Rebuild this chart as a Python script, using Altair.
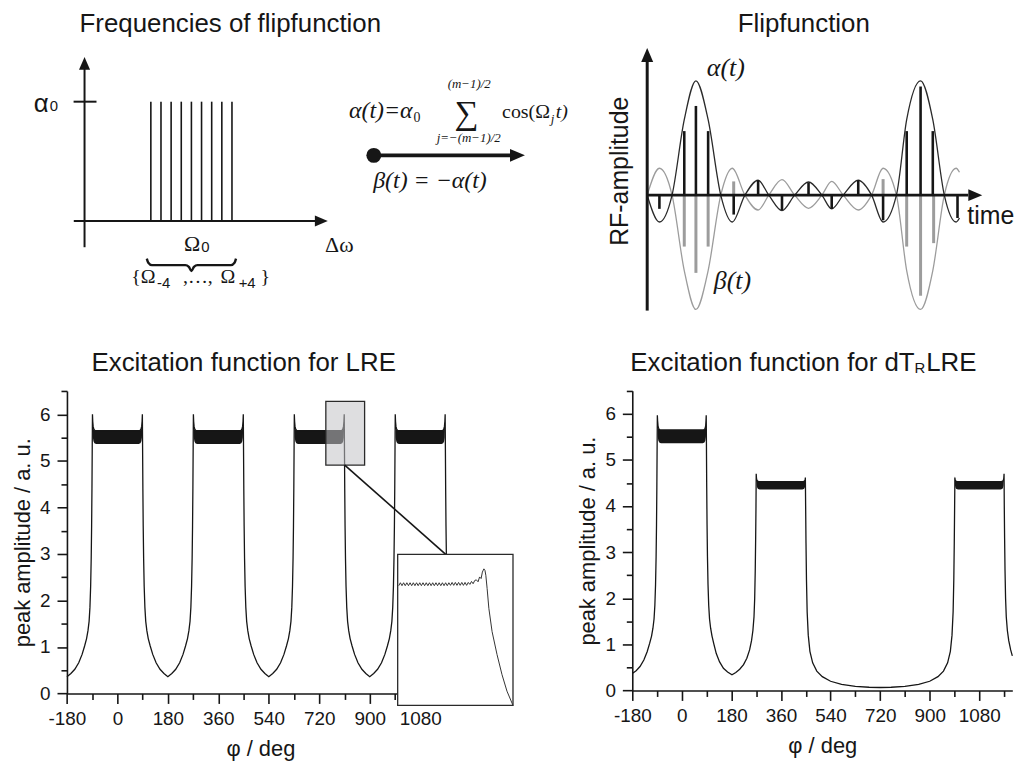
import altair as alt
import pandas as pd

# ---------------- data ----------------
# top-left: frequency comb (index j of Omega_j, amplitude alpha0 = 1)
freq_index = [-4, -3, -2, -1, 0, 1, 2, 3, 4]
freq_amp = [1, 1, 1, 1, 1, 1, 1, 1, 1]
brace_j = [-4.4, -4.25, -3.9, -0.6, -0.25, 0.0, 0.25, 0.6, 3.9, 4.25, 4.4]
brace_v = [-0.315, -0.35, -0.37, -0.37, -0.385, -0.42, -0.385, -0.37, -0.37, -0.35, -0.315]

# top-right: flip function alpha(t) (beta = -alpha)
flip_t = [0, 0.435, 0.885, 1.32, 1.735, 2.17, 2.62, 3.03, 3.48, 3.95, 4.33, 4.80, 5.25,
          5.745, 6.22, 6.57, 6.98, 7.515, 7.99, 8.40, 8.875, 9.24, 9.735, 10.17, 10.58, 11.0, 11.12]
flip_alpha = [0, -0.235, 0, 0.66, 1.0, 0.66, 0, -0.235, 0, 0.13, 0, -0.135, 0,
              0.115, 0, -0.12, 0, 0.13, 0, -0.235, 0, 0.66, 1.0, 0.66, 0, -0.235, -0.2]
stick_black_t = [0.435, 1.32, 1.735, 2.17, 3.08, 3.95, 4.80, 5.745, 6.57, 7.515, 8.40, 9.24, 9.735, 10.17, 11.05]
stick_black_v = [-0.12, 0.56, 0.78, 0.56, -0.17, 0.13, -0.13, 0.11, -0.12, 0.13, -0.22, 0.56, 0.95, 0.56, -0.2]
stick_gray_t = [1.32, 1.735, 2.17, 3.08, 8.40, 9.24, 9.735, 10.2]
stick_gray_v = [-0.45, -0.68, -0.45, 0.12, 0.14, -0.45, -0.88, -0.42]

# bottom-left: LRE excitation, one period profile around a bump centre
lre_centres = [0, 360, 720, 1080]
lre_off = [-180, -166, -152, -138, -126, -117, -110, -105, -101, -98, -95.5, -93.5, -92, -90.8,
           -89.8, -89, -88, -86.5, -84, -80, 80, 84, 86.5, 88, 89, 89.8, 90.8, 92, 93.5, 95.5,
           98, 101, 105, 110, 117, 126, 138, 152, 166, 180]
lre_amp = [0.36, 0.43, 0.52, 0.66, 0.84, 1.02, 1.18, 1.35, 1.55, 1.85, 2.3, 2.9, 3.6, 4.4,
           5.3, 6.0, 5.85, 5.74, 5.68, 5.65, 5.65, 5.68, 5.74, 5.85, 6.0, 5.3, 4.4, 3.6, 2.9, 2.3,
           1.85, 1.55, 1.35, 1.18, 1.02, 0.84, 0.66, 0.52, 0.43, 0.36]
band_off = [-88.6, -87.5, -85.5, -82, -76, 76, 82, 85.5, 87.5, 88.6]
band_hi = [5.85, 5.74, 5.68, 5.66, 5.65, 5.65, 5.66, 5.68, 5.74, 5.85]
band_lo = [5.75, 5.5, 5.42, 5.38, 5.36, 5.36, 5.38, 5.42, 5.5, 5.75]
small_band_off = [-89, -88, -86, -83, -77, 77, 83, 86, 88, 88.7]
small_band_hi = [4.65, 4.58, 4.55, 4.54, 4.53, 4.53, 4.54, 4.55, 4.57, 4.6]
small_band_lo = [4.55, 4.44, 4.39, 4.37, 4.36, 4.36, 4.37, 4.39, 4.44, 4.52]

# highlight box and inset (zoom of the plateau edge)
rect_phi = [743.4, 881.7]
rect_amp = [4.91, 6.28]
link_phi = [810.8, 1171]
link_amp = [4.91, 2.99]
inset_phi = [770.5, 771.25, 772.0, 772.75, 773.5, 774.25, 775.0, 775.75, 776.5, 777.25, 778.0,
             778.75, 779.5, 780.25, 781.0, 781.75, 782.5, 783.25, 784.0, 784.75, 785.5, 786.25,
             787.0, 787.75, 788.5, 789.25, 790.0, 790.75, 791.5, 792.25, 793.0, 793.75, 794.5,
             795.25, 796.0, 796.75, 797.5, 798.25, 799.0, 799.75, 800.5, 801.25, 802.0, 802.75,
             803.5, 804.25, 805.0, 805.75, 806.5, 807.3, 808.0, 808.7, 809.3, 810.0, 810.5,
             810.9, 811.5, 812.3, 813.8, 816.1, 818.4, 820.7, 823.5]
inset_amp = [5.48, 5.57, 5.48, 5.57, 5.48, 5.57, 5.48, 5.57, 5.48, 5.57, 5.48, 5.57, 5.48, 5.57,
             5.48, 5.57, 5.48, 5.57, 5.48, 5.57, 5.48, 5.57, 5.48, 5.57, 5.48, 5.57, 5.48, 5.57,
             5.48, 5.57, 5.48, 5.57, 5.49, 5.58, 5.49, 5.58, 5.49, 5.58, 5.49, 5.58, 5.49, 5.58,
             5.49, 5.58, 5.52, 5.61, 5.54, 5.64, 5.66, 5.60, 5.75, 5.70, 5.90, 6.0, 5.95,
             5.80, 5.39, 4.78, 4.06, 3.35, 2.73, 2.22, 1.78]

# bottom-right: dT_R LRE excitation
dtr_phi = [-180, -166, -152, -138, -126, -117, -110, -105, -101, -98, -95.5, -93.5, -92, -90.8,
           -89.8, -89, -88, -86.5, -84, -80, 80, 84, 86.5, 87.6, 88.5,
           89.3, 90.3, 91.5, 93, 95, 97.5, 100.5, 104.5, 109.5, 116.5, 125, 137, 151, 166, 182,
           196, 210, 224, 236, 246, 253, 258, 262, 264.5, 266.5, 268, 269.2, 270,
           271, 272.5, 275, 280, 440, 445, 447.5, 448.5,
           449.5, 450.8, 452.5, 455, 459, 465, 475, 490, 510, 540, 580, 630, 680, 720, 760, 810,
           860, 900, 930, 950, 965, 975, 981, 985, 987.5, 989.2, 990.5, 991.5,
           992.5, 995, 1000, 1160, 1165, 1167.5, 1169, 1170,
           1170.8, 1172, 1173.5, 1175.5, 1178, 1182, 1187, 1194, 1200]
dtr_amp = [0.37, 0.43, 0.52, 0.66, 0.84, 1.02, 1.18, 1.35, 1.55, 1.85, 2.3, 2.9, 3.6, 4.4,
           5.3, 5.97, 5.85, 5.74, 5.68, 5.65, 5.65, 5.68, 5.74, 5.85, 5.97,
           5.3, 4.4, 3.6, 2.9, 2.3, 1.85, 1.55, 1.35, 1.18, 1.0, 0.8, 0.62, 0.48, 0.4, 0.34,
           0.39, 0.46, 0.56, 0.7, 0.88, 1.08, 1.3, 1.6, 2.0, 2.6, 3.3, 4.0, 4.7,
           4.6, 4.56, 4.54, 4.53, 4.53, 4.54, 4.56, 4.62,
           4.0, 3.2, 2.4, 1.7, 1.2, 0.85, 0.6, 0.42, 0.3, 0.2, 0.13, 0.09, 0.07, 0.065, 0.07, 0.09,
           0.13, 0.2, 0.3, 0.42, 0.6, 0.85, 1.2, 1.7, 2.4, 3.2, 4.0, 4.62,
           4.56, 4.54, 4.53, 4.53, 4.54, 4.56, 4.6, 4.7,
           4.0, 3.3, 2.6, 2.0, 1.6, 1.3, 1.08, 0.88, 0.75]

major_phi = [-180, 0, 180, 360, 540, 720, 900, 1080]
minor_phi = [-90, 90, 270, 450, 630, 810, 990, 1170]
major_amp = [0, 1, 2, 3, 4, 5, 6]
minor_amp = [0.5, 1.5, 2.5, 3.5, 4.5, 5.5, 6.5]

# ---------------- layout (canvas pixels) ----------------
INK = "#161616"
GRAY = "#9c9c9c"
SANS = "Liberation Sans"
SERIF = "Liberation Serif"


def sc(dom, rng):
    return alt.Scale(domain=dom, range=rng, nice=False, zero=False)


FREQ_X, FREQ_Y = sc([-12, 14], [62.1, 327.3]), sc([-0.3, 1.4], [245, 41])
FLIP_X, FLIP_Y = sc([0, 12], [643, 982]), sc([-1.1, 1.3], [309.5, 33.5])
LRE_X, LRE_Y = sc([-180, 1200], [59.3, 448.5]), sc([0, 6.5], [684.3, 380.1])
DTR_X, DTR_Y = sc([-180, 1200], [628, 1010.3]), sc([0, 6.5], [681.3, 379.8])
INS_X, INS_Y = sc([770, 823.5], [392, 508]), sc([1.78, 6.45], [696.3, 544.3])

ARROW_R = "M0,0 L-1,-0.43 L-1,0.43 Z"
ARROW_U = "M0,0 L-0.43,1 L0.43,1 Z"

layers = []


def qx(f, s, axis=None):
    return alt.X(f"{f}:Q", scale=s, axis=axis)


def qy(f, s, axis=None):
    return alt.Y(f"{f}:Q", scale=s, axis=axis)


def segs(rows, xs, ys, color=INK, width=2.0):
    d = pd.DataFrame(rows, columns=["x", "x2", "y", "y2"])
    return alt.Chart(d).mark_rule(color=color, strokeWidth=width).encode(
        x=qx("x", xs), x2="x2:Q", y=qy("y", ys), y2="y2:Q")


def head(x, y, shape, size, xs, ys, color=INK):
    d = pd.DataFrame({"x": [x], "y": [y]})
    return alt.Chart(d).mark_point(shape=shape, filled=True, size=size, color=color,
                                   opacity=1, strokeWidth=0).encode(x=qx("x", xs), y=qy("y", ys))


def texts(rows, font=SANS, size=26, style="normal", align="left", baseline="alphabetic",
          angle=0, color=INK):
    d = pd.DataFrame(rows, columns=["text", "x", "y"])
    kw = dict(font=font, fontSize=size, fontStyle=style, align=align, baseline=baseline, color=color)
    if angle:
        kw["angle"] = angle
    return alt.Chart(d).mark_text(**kw).encode(
        x=alt.X("x:Q", scale=None, axis=None), y=alt.Y("y:Q", scale=None, axis=None), text="text:N")


# ---- top-left diagram ----
fdf = pd.DataFrame({"j": freq_index, "a": freq_amp, "z": [0] * 9})
layers.append(alt.Chart(fdf).mark_rule(color=INK, strokeWidth=1.6).encode(
    x=qx("j", FREQ_X), y=qy("z", FREQ_Y), y2="a:Q"))
layers.append(segs([[-10.54, -10.54, -0.22, 1.28], [-11.6, 12.2, 0, 0], [-11.62, -9.36, 1, 1]],
                   FREQ_X, FREQ_Y, width=2.0))
layers.append(head(-10.54, 1.375, ARROW_U, 676, FREQ_X, FREQ_Y))
layers.append(head(13.45, 0, ARROW_R, 676, FREQ_X, FREQ_Y))
layers.append(alt.Chart(pd.DataFrame({"j": brace_j, "v": brace_v})).mark_line(
    color=INK, strokeWidth=2.4, interpolate="monotone").encode(x=qx("j", FREQ_X), y=qy("v", FREQ_Y)))

# ---- middle arrow ----
layers.append(alt.Chart(pd.DataFrame({"x": [368], "x2": [507], "y": [143]})).mark_rule(
    color=INK, strokeWidth=4).encode(x=alt.X("x:Q", scale=None, axis=None), x2="x2:Q",
                                     y=alt.Y("y:Q", scale=None, axis=None)))
layers.append(alt.Chart(pd.DataFrame({"x": [520], "y": [143]})).mark_point(
    shape=ARROW_R, filled=True, size=900, color=INK, opacity=1, strokeWidth=0).encode(
    x=alt.X("x:Q", scale=None, axis=None), y=alt.Y("y:Q", scale=None, axis=None)))
layers.append(alt.Chart(pd.DataFrame({"x": [368], "y": [143]})).mark_point(
    shape="circle", filled=True, size=225, color=INK, opacity=1).encode(
    x=alt.X("x:Q", scale=None, axis=None), y=alt.Y("y:Q", scale=None, axis=None)))

# ---- flip function ----
flip = pd.DataFrame({"t": flip_t, "a": flip_alpha, "b": [-v for v in flip_alpha]})
sg = pd.DataFrame({"t": stick_gray_t, "v": stick_gray_v, "z": 0})
sb = pd.DataFrame({"t": stick_black_t, "v": stick_black_v, "z": 0})
layers.append(alt.Chart(sg).mark_rule(color=GRAY, strokeWidth=3).encode(
    x=qx("t", FLIP_X), y=qy("z", FLIP_Y), y2="v:Q"))
layers.append(alt.Chart(flip).mark_line(color=GRAY, strokeWidth=1.3, interpolate="monotone").encode(
    x=qx("t", FLIP_X), y=qy("b", FLIP_Y)))
layers.append(alt.Chart(flip).mark_line(color="#2a2a2a", strokeWidth=1.3, interpolate="monotone").encode(
    x=qx("t", FLIP_X), y=qy("a", FLIP_Y)))
layers.append(alt.Chart(sb).mark_rule(color=INK, strokeWidth=2.6).encode(
    x=qx("t", FLIP_X), y=qy("z", FLIP_Y), y2="v:Q"))
layers.append(segs([[0, 0, -1.01, 1.17], [0, 11.43, 0, 0]], FLIP_X, FLIP_Y, width=3))
layers.append(head(0, 1.287, ARROW_U, 784, FLIP_X, FLIP_Y))
layers.append(head(11.93, 0, ARROW_R, 784, FLIP_X, FLIP_Y))

# ---- axes styling ----
AX = dict(grid=False, domainColor=INK, tickColor=INK, domainWidth=1.6, tickWidth=1.6,
          labelFont=SANS, labelFontSize=19, labelColor=INK, titleFont=SANS, titleFontSize=22,
          titleFontWeight="normal", titleColor=INK, labelFlush=False, labelOverlap=False,
          labelExpr="'' + datum.value")


def xaxis(offset):
    return alt.Axis(orient="bottom", offset=offset, values=major_phi, title="φ / deg", tickSize=10,
                    labelPadding=6, titlePadding=10, **AX)


def yaxis(offset):
    return alt.Axis(orient="left", offset=offset, values=major_amp, title="peak amplitude / a. u.",
                    tickSize=10, labelPadding=7, titlePadding=5, **AX)


def minor_layers(xs, ys, xoff, yoff):
    d = pd.DataFrame({"x": [-180, 1200], "y": [0, 6.5]})
    mx = alt.Axis(orient="bottom", offset=xoff, values=minor_phi, labels=False, domain=False,
                  tickSize=6, tickWidth=1.6, tickColor=INK, grid=False, title=None)
    my = alt.Axis(orient="left", offset=yoff, values=minor_amp, labels=False, domain=False,
                  tickSize=6, tickWidth=1.6, tickColor=INK, grid=False, title=None)
    return alt.Chart(d).mark_point(opacity=0).encode(x=qx("x", xs, mx), y=qy("y", ys, my))


# ---- bottom-left: LRE ----
lre_rows = []
band_rows = []
for k, c in enumerate(lre_centres):
    for i, (o, a) in enumerate(zip(lre_off, lre_amp)):
        if k > 0 and i == 0:
            continue
        if c + o <= 1200:
            lre_rows.append((c + o, a))
    for o, hi, lo in zip(band_off, band_hi, band_lo):
        band_rows.append((c + o, hi, lo, k))
lre = pd.DataFrame(lre_rows, columns=["phi", "amp"])
lband = pd.DataFrame(band_rows, columns=["phi", "hi", "lo", "bump"])
layers.append(alt.Chart(lband).mark_area(color=INK, opacity=1).encode(
    x=qx("phi", LRE_X), y=qy("hi", LRE_Y), y2="lo:Q", detail="bump:N"))
layers.append(alt.Chart(lre).mark_line(color=INK, strokeWidth=1.3).encode(
    x=qx("phi", LRE_X, xaxis(3)), y=qy("amp", LRE_Y, yaxis(-59.3))))
layers.append(minor_layers(LRE_X, LRE_Y, 3, -59.3))
rect = pd.DataFrame({"x": [rect_phi[0]], "x2": [rect_phi[1]], "y": [rect_amp[0]], "y2": [rect_amp[1]]})
layers.append(alt.Chart(rect).mark_rect(fill="#c2c3c7", fillOpacity=0.55, stroke="#2a2a2a",
                                        strokeWidth=1.3).encode(
    x=qx("x", LRE_X), x2="x2:Q", y=qy("y", LRE_Y), y2="y2:Q"))
layers.append(segs([[link_phi[0], link_phi[1], link_amp[0], link_amp[1]]], LRE_X, LRE_Y, width=1.6))
ibox = pd.DataFrame({"x": [770], "x2": [823.5], "y": [1.78], "y2": [6.45]})
layers.append(alt.Chart(ibox).mark_rect(fill="white", stroke="#2a2a2a", strokeWidth=1.3).encode(
    x=qx("x", INS_X), x2="x2:Q", y=qy("y", INS_Y), y2="y2:Q"))
layers.append(alt.Chart(pd.DataFrame({"phi": inset_phi, "amp": inset_amp})).mark_line(
    color="#333333", strokeWidth=1.0).encode(x=qx("phi", INS_X), y=qy("amp", INS_Y)))

# ---- bottom-right: dT_R LRE ----
dtr = pd.DataFrame({"phi": dtr_phi, "amp": dtr_amp})
drows = []
for o, hi, lo in zip(band_off, band_hi, band_lo):
    drows.append((0 + o, hi, lo, 0))
for k, c in enumerate([360, 1080]):
    for o, hi, lo in zip(small_band_off, small_band_hi, small_band_lo):
        drows.append((c + o, hi, lo, k + 1))
dband = pd.DataFrame(drows, columns=["phi", "hi", "lo", "bump"])
layers.append(alt.Chart(dband).mark_area(color=INK, opacity=1).encode(
    x=qx("phi", DTR_X), y=qy("hi", DTR_Y), y2="lo:Q", detail="bump:N"))
layers.append(alt.Chart(dtr).mark_line(color=INK, strokeWidth=1.3).encode(
    x=qx("phi", DTR_X, xaxis(0)), y=qy("amp", DTR_Y, yaxis(-628))))
layers.append(minor_layers(DTR_X, DTR_Y, 0, -628))

# ---- texts ----
layers.append(texts([["Frequencies of flipfunction", 72, 18.7],
                     ["Excitation function for LRE", 84, 360.3],
                     ["LRE", 923.7, 360.3]]))
layers.append(texts([["Flipfunction", 800.5, 18.7]], align="center"))
layers.append(texts([["Excitation function for dT", 912, 360.3]], align="right"))
layers.append(texts([["R", 912, 362]], size=15))
layers.append(texts([["time", 965, 212]], size=25))
layers.append(texts([["RF-amplitude", 616, 159]], size=25, align="center", baseline="middle", angle=270))
layers.append(texts([["α", 26, 99]], size=26))
layers.append(texts([["0", 42, 98.5], ["0", 194.5, 240.7], ["-4", 150, 276], ["+4", 232, 276]], size=15))
layers.append(texts([["Ω", 177, 239], ["Δω", 319, 240]], font=SERIF, size=22))
layers.append(texts([["{Ω", 124, 271.5], [",…,", 176, 271.5], ["Ω", 213.7, 271.5], ["}", 254, 271.5]],
                    font=SERIF, size=20))
layers.append(texts([["α(t)=α", 407, 105.3]], font=SERIF, size=24, style="italic", align="right"))
layers.append(texts([["0", 408, 109]], font=SERIF, size=14))
layers.append(texts([["∑", 461, 111]], font=SERIF, size=34, align="center"))
layers.append(texts([["(m−1)/2", 464, 75], ["j=−(m−1)/2", 463.5, 130]], font=SERIF, size=13,
                    style="italic", align="center"))
layers.append(texts([["cos(Ω", 497, 105]], font=SERIF, size=20))
layers.append(texts([["j", 546, 110]], font=SERIF, size=13, style="italic"))
layers.append(texts([["t)", 551, 105]], font=SERIF, size=20, style="italic"))
layers.append(texts([["β(t) = −α(t)", 424.5, 176]], font=SERIF, size=24, style="italic", align="center"))
layers.append(texts([["α(t)", 703, 63], ["β(t)", 710, 277]], font=SERIF, size=26, style="italic"))

chart = alt.layer(*layers).resolve_scale(x="independent", y="independent").properties(
    width=1010, height=681.3, padding=0, background="white"
).configure_view(stroke=None)

chart.save("out.html", embed_options={"renderer": "svg", "actions": False})
